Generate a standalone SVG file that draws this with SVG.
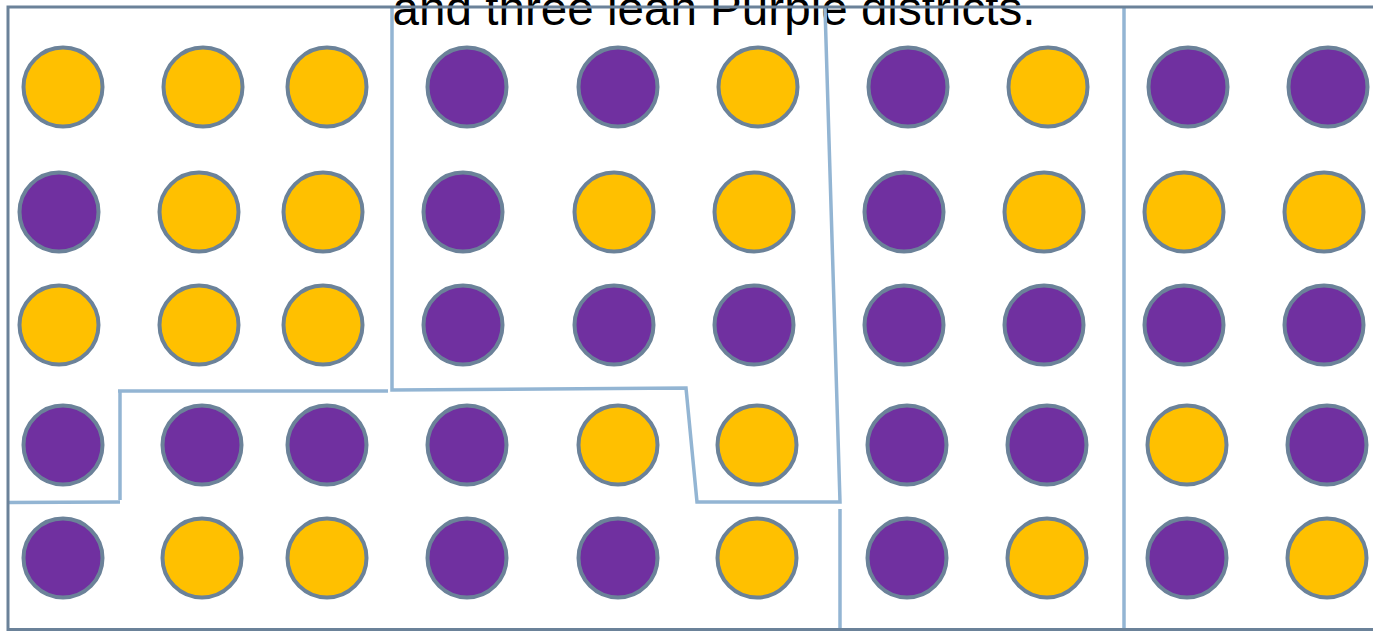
<svg xmlns="http://www.w3.org/2000/svg" width="1373" height="631" viewBox="0 0 1373 631">
<style>
.y{fill:#FFC000;stroke:#6B8299;stroke-width:4}
.p{fill:#7030A0;stroke:#6B8299;stroke-width:4}
.d{fill:none;stroke:#93B5D3;stroke-width:3.5}
.b{fill:none;stroke:#6B8299;stroke-width:3}
text{font-family:"Liberation Sans",Arial,sans-serif}
</style>
<rect width="1373" height="631" fill="#fff"/>
<text id="title" x="714" y="25" font-size="47.6" text-anchor="middle" fill="#000">and three lean Purple districts.</text>
<g id="connectors">
<path class="d" d="M392,8 L392,390 L686,388 L697,502 L840,502 L825,8"/>
<path class="d" d="M118,391 L388,391"/>
<path class="d" d="M120,391 L120,500"/>
<path class="d" d="M8,502.5 L120,502"/>
<path class="d" d="M840,509 L840,629"/>
<path class="d" d="M1124,8 L1124,629"/>
</g>
<g id="border"><path class="b" d="M1373,7 L8,7 L8,629.5 L1373,629.5"/></g>
<g id="row1">
<circle class="y" cx="63" cy="87" r="39.5"/>
<circle class="y" cx="203" cy="87" r="39.5"/>
<circle class="y" cx="327" cy="87" r="39.5"/>
<circle class="p" cx="467" cy="87" r="39.5"/>
<circle class="p" cx="618" cy="87" r="39.5"/>
<circle class="y" cx="758" cy="87" r="39.5"/>
<circle class="p" cx="908" cy="87" r="39.5"/>
<circle class="y" cx="1048" cy="87" r="39.5"/>
<circle class="p" cx="1188" cy="87" r="39.5"/>
<circle class="p" cx="1328" cy="87" r="39.5"/>
</g>
<g id="row2">
<circle class="p" cx="59" cy="212" r="39.5"/>
<circle class="y" cx="199" cy="212" r="39.5"/>
<circle class="y" cx="323" cy="212" r="39.5"/>
<circle class="p" cx="463" cy="212" r="39.5"/>
<circle class="y" cx="614" cy="212" r="39.5"/>
<circle class="y" cx="754" cy="212" r="39.5"/>
<circle class="p" cx="904" cy="212" r="39.5"/>
<circle class="y" cx="1044" cy="212" r="39.5"/>
<circle class="y" cx="1184" cy="212" r="39.5"/>
<circle class="y" cx="1324" cy="212" r="39.5"/>
</g>
<g id="row3">
<circle class="y" cx="59" cy="325" r="39.5"/>
<circle class="y" cx="199" cy="325" r="39.5"/>
<circle class="y" cx="323" cy="325" r="39.5"/>
<circle class="p" cx="463" cy="325" r="39.5"/>
<circle class="p" cx="614" cy="325" r="39.5"/>
<circle class="p" cx="754" cy="325" r="39.5"/>
<circle class="p" cx="904" cy="325" r="39.5"/>
<circle class="p" cx="1044" cy="325" r="39.5"/>
<circle class="p" cx="1184" cy="325" r="39.5"/>
<circle class="p" cx="1324" cy="325" r="39.5"/>
</g>
<g id="row4">
<circle class="p" cx="63" cy="445" r="39.5"/>
<circle class="p" cx="202" cy="445" r="39.5"/>
<circle class="p" cx="327" cy="445" r="39.5"/>
<circle class="p" cx="467" cy="445" r="39.5"/>
<circle class="y" cx="618" cy="445" r="39.5"/>
<circle class="y" cx="757" cy="445" r="39.5"/>
<circle class="p" cx="907" cy="445" r="39.5"/>
<circle class="p" cx="1047" cy="445" r="39.5"/>
<circle class="y" cx="1187" cy="445" r="39.5"/>
<circle class="p" cx="1327" cy="445" r="39.5"/>
</g>
<g id="row5">
<circle class="p" cx="63" cy="558" r="39.5"/>
<circle class="y" cx="202" cy="558" r="39.5"/>
<circle class="y" cx="327" cy="558" r="39.5"/>
<circle class="p" cx="467" cy="558" r="39.5"/>
<circle class="p" cx="618" cy="558" r="39.5"/>
<circle class="y" cx="757" cy="558" r="39.5"/>
<circle class="p" cx="907" cy="558" r="39.5"/>
<circle class="y" cx="1047" cy="558" r="39.5"/>
<circle class="p" cx="1187" cy="558" r="39.5"/>
<circle class="y" cx="1327" cy="558" r="39.5"/>
</g>
</svg>
